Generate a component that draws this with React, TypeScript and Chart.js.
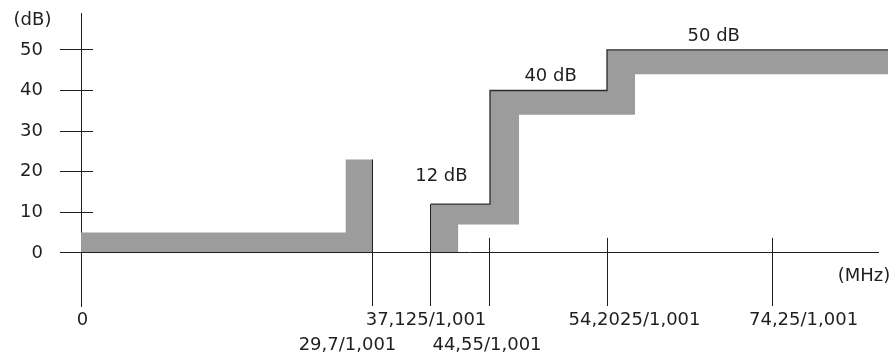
import { useEffect, useRef } from 'react';
import { Chart, registerables, LinearScale } from 'chart.js';

// ---------------- data ----------------
// Frequency markers on the horizontal axis (MHz)
const X_TICK_LABELS = ['0', '29,7/1,001', '37,125/1,001', '44,55/1,001', '54,2025/1,001', '74,25/1,001'];
const X_TICK_MHZ = [0, 29.7 / 1.001, 37.125 / 1.001, 44.55 / 1.001, 54.2025 / 1.001, 74.25 / 1.001];
// Upper end (dB) of each frequency marker line (null: the marker is the y axis itself)
const X_TICK_TOP_DB: (number | null)[] = [null, 23, 12, 3.7, 3.7, 3.7];
// Label row of each marker (0 = upper row, 1 = lower row)
const X_TICK_ROW = [0, 1, 0, 1, 0, 0];

const Y_TICKS = [0, 10, 20, 30, 40, 50];

const MASK_END_MHZ = 88.3;

// Pass-band tolerance block (grey, from 0 dB upward)
const PASS_MHZ = [0, 26.9, 29.7 / 1.001];
const PASS_DB = [5, 23, 23];

// Stop-band limit line (black), also upper edge of the grey band
const STOP_UPPER_MHZ = [37.125 / 1.001, 44.55 / 1.001, 54.2025 / 1.001, MASK_END_MHZ];
const STOP_UPPER_DB = [12, 40, 50, 50];

// Lower edge of the grey stop-band band
const STOP_LOWER_MHZ = [37.125 / 1.001, 40.5, 46.9, 57.55, MASK_END_MHZ];
const STOP_LOWER_DB = [0, 7, 34, 44, 44];

// Level annotations
const LEVEL_LABELS = ['12 dB', '40 dB', '50 dB'];
const LEVEL_LABEL_MHZ = [38.4, 49.5, 67.1];
const LEVEL_LABEL_DB = [18.9, 43.5, 53.4];

// ---------------- layout / style ----------------
const FONT = '"DejaVu Sans", "Liberation Sans", Arial, sans-serif';
const FONT_SIZE = 18;
const INK = '#1f1f1f';
const GREY = '#9c9c9c';

// The frequency axis of this schematic is not to scale: piecewise placement
// [MHz, fraction of axis length]
const X_AXIS_KNOTS: Array<[number, number]> = [
  [0, 0],
  [29.7 / 1.001, 0.3618],
  [37.125 / 1.001, 0.4337],
  [44.55 / 1.001, 0.5068],
  [54.2025 / 1.001, 0.6518],
  [74.25 / 1.001, 0.8563],
  [MASK_END_MHZ, 1],
];
// horizontal offsets of the frequency labels relative to their marker (px)
const X_LABEL_DX = [1.5, -25.5, -5, -3, 27.5, 31.5];

function knotInterp(v: number, from: 0 | 1, to: 0 | 1): number {
  const k = X_AXIS_KNOTS;
  let i = 0;
  while (i < k.length - 2 && v > k[i + 1][from]) i++;
  const a = k[i];
  const b = k[i + 1];
  return a[to] + ((v - a[from]) * (b[to] - a[to])) / (b[from] - a[from]);
}

class SchematicScale extends LinearScale {
  static id = 'schematic';
  static defaults = {};
  getPixelForValue(value: any) {
    if (value === null || value === undefined || Number.isNaN(+value)) return NaN;
    return this.getPixelForDecimal(knotInterp(+value, 0, 1));
  }
  getValueForPixel(pixel: number) {
    return knotInterp(this.getDecimalForPixel(pixel), 1, 0);
  }
}

Chart.register(...registerables, SchematicScale as any);

const toPoints = (xs: number[], ys: number[]) => xs.map((x, i) => ({ x, y: ys[i] }));

const schematicAxes = {
  id: 'schematicAxes',
  afterDatasetsDraw(chart: any) {
    const { ctx, chartArea } = chart;
    const x = chart.scales.x;
    const y = chart.scales.y;
    const al = (v: number) => Math.round(v - 0.5) + 0.5;
    ctx.save();
    ctx.strokeStyle = INK;
    ctx.lineWidth = 1;
    ctx.beginPath();
    // horizontal axis at 0 dB
    const y0 = al(y.getPixelForValue(0));
    ctx.moveTo(chartArea.left - 21, y0);
    ctx.lineTo(chartArea.right - 9, y0);
    // inner parts of the dB tick marks
    Y_TICKS.forEach((v) => {
      const yy = al(y.getPixelForValue(v));
      ctx.moveTo(chartArea.left, yy);
      ctx.lineTo(chartArea.left + 12, yy);
    });
    // frequency markers
    X_TICK_MHZ.forEach((f, i) => {
      const top = X_TICK_TOP_DB[i];
      if (top === null) return;
      const xx = al(x.getPixelForValue(f));
      ctx.moveTo(xx, y.getPixelForValue(top));
      ctx.lineTo(xx, chartArea.bottom);
    });
    ctx.stroke();

    ctx.fillStyle = INK;
    ctx.font = `${FONT_SIZE}px ${FONT}`;
    ctx.textAlign = 'center';
    ctx.textBaseline = 'middle';
    X_TICK_LABELS.forEach((t, i) => {
      const xx = x.getPixelForValue(X_TICK_MHZ[i]) + X_LABEL_DX[i];
      const yy = chartArea.bottom + (X_TICK_ROW[i] ? 39.5 : 14.5);
      ctx.fillText(t, xx, yy);
    });
    LEVEL_LABELS.forEach((t, i) => {
      ctx.fillText(t, x.getPixelForValue(LEVEL_LABEL_MHZ[i]), y.getPixelForValue(LEVEL_LABEL_DB[i]));
    });
    ctx.fillText('(dB)', chartArea.left - 48.5, chartArea.top + 7);
    ctx.fillText('(MHz)', chartArea.right - 24, y0 + 23.5);
    ctx.restore();
  },
};

export default function App() {
  const ref = useRef<HTMLCanvasElement>(null);
  useEffect(() => {
    Chart.defaults.font.family = FONT;
    Chart.defaults.font.size = FONT_SIZE;
    const chart = new Chart(ref.current as HTMLCanvasElement, {
      type: 'line',
      data: {
        datasets: [
          {
            label: 'Pass band',
            data: toPoints(PASS_MHZ, PASS_DB),
            stepped: true,
            fill: 'origin',
            backgroundColor: GREY,
            borderColor: 'transparent',
            borderWidth: 0,
            pointRadius: 0,
          },
          {
            label: 'Stop band lower',
            data: toPoints(STOP_LOWER_MHZ, STOP_LOWER_DB),
            stepped: true,
            fill: false,
            borderColor: 'transparent',
            borderWidth: 0,
            pointRadius: 0,
          },
          {
            label: 'Stop band limit',
            data: toPoints(STOP_UPPER_MHZ, STOP_UPPER_DB),
            stepped: true,
            fill: '-1',
            backgroundColor: GREY,
            borderColor: '#2a2a2a',
            borderWidth: 1.3,
            borderJoinStyle: 'miter',
            pointRadius: 0,
          },
        ],
      } as any,
      options: {
        animation: false,
        responsive: true,
        maintainAspectRatio: false,
        events: [],
        layout: { padding: { top: 13, bottom: 49, left: 0, right: 7 } },
        plugins: { legend: { display: false }, tooltip: { enabled: false } },
        scales: {
          x: {
            type: 'schematic' as any,
            min: 0,
            max: MASK_END_MHZ,
            display: false,
          },
          y: {
            type: 'linear',
            position: 'left',
            min: -13.1,
            max: 59.1,
            afterBuildTicks: (s: any) => {
              s.ticks = Y_TICKS.map((v) => ({ value: v }));
            },
            afterFit: (s: any) => {
              s.width = 81;
              s.paddingTop = 0;
              s.paddingBottom = 0;
            },
            grid: { drawOnChartArea: false, drawTicks: true, tickLength: 21, color: INK, lineWidth: 1 },
            border: { display: true, color: INK, width: 1 },
            ticks: {
              color: INK,
              font: { family: FONT, size: FONT_SIZE },
              padding: 17,
              callback: (v: any) => String(v),
            },
          },
        } as any,
      },
      plugins: [schematicAxes],
    } as any);
    return () => chart.destroy();
  }, []);
  return (
    <div style={{ position: 'fixed', left: 0, top: 0, width: 895, height: 355, background: '#fff' }}>
      <canvas ref={ref} />
    </div>
  );
}
